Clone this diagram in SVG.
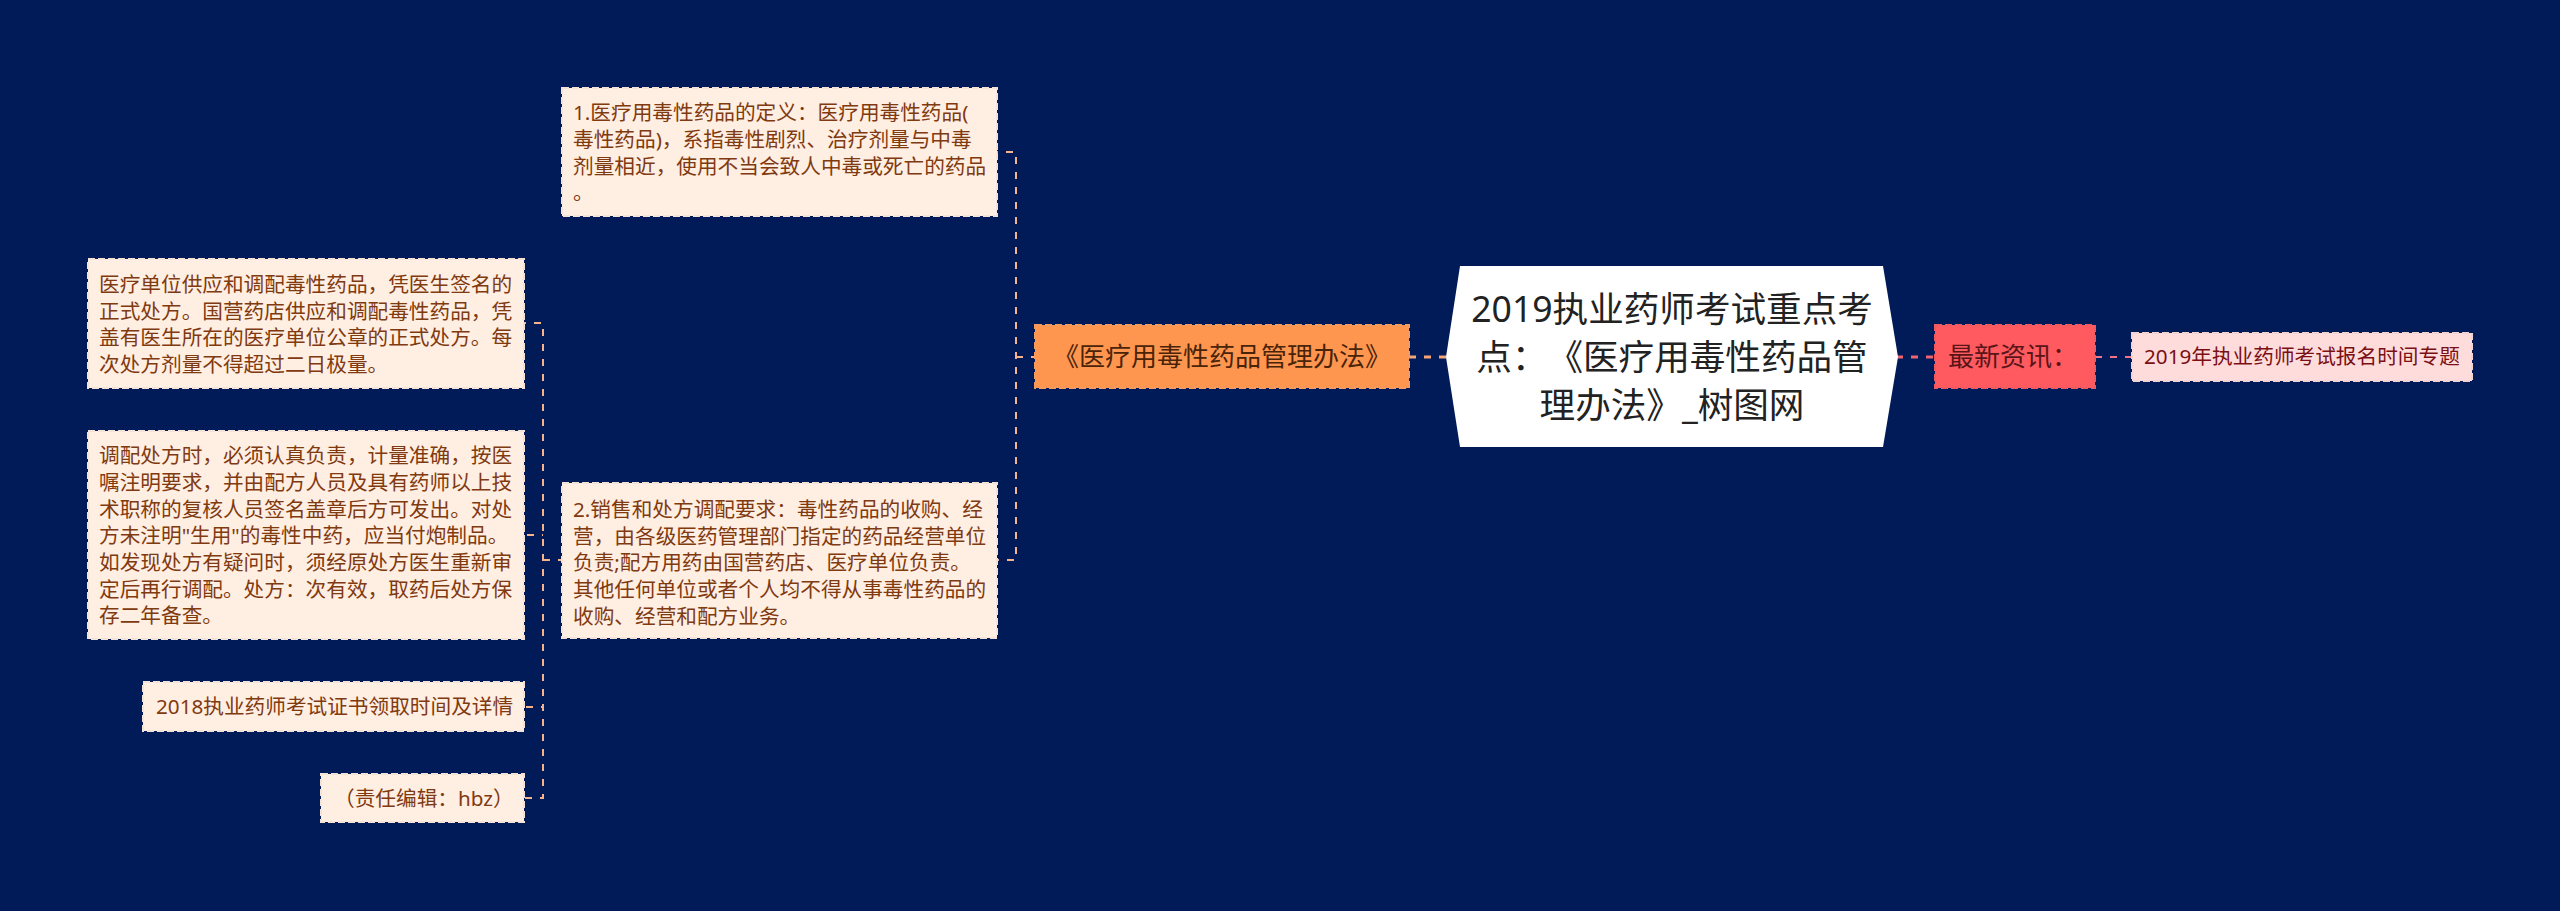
<svg xmlns="http://www.w3.org/2000/svg" width="2560" height="911" viewBox="0 0 2560 911">
<style>
text{font-family:"Noto Sans","Noto Sans CJK SC","Liberation Sans",sans-serif;text-spacing-trim:space-all}
.q{font-family:"Noto Sans CJK TC",sans-serif}
.t{font-size:20.67px;fill:#7f3a10}
.b{fill:#ffeee2;stroke:#f3e2d8;stroke-width:2;stroke-dasharray:7 3}
.c{fill:none;stroke:#f5b48c;stroke-width:2;stroke-dasharray:7 8}
</style>
<rect width="2560" height="911" fill="#001b58"/>
<g id="connectors">
<path class="c" stroke-dashoffset="6" d="M997 152H1016V560H997"/>
<path class="c" stroke-dasharray="5 7 8" d="M1016 357H1035"/>
<path class="c" stroke-dasharray="27 6" d="M1446 357H1409" style="stroke-width:3;stroke:#f5a676"/>
<path class="c" stroke-dashoffset="5" d="M524 323H543V798H524"/>
<path class="c" stroke-dashoffset="12" d="M524 535H543"/>
<path class="c" stroke-dashoffset="13" d="M524 707H543"/>
<path class="c" stroke-dasharray="4 8 7" d="M543 560H562"/>
<path class="c" stroke-dasharray="27 6" d="M1896 357H1935" style="stroke-width:3;stroke:#ee6570"/>
<path class="c" stroke-dasharray="7 7" d="M2095 357H2132" style="stroke:#ee7585"/>
</g>
<g id="root"><polygon points="1446,357 1460,266 1883,266 1898,357 1883,447 1460,447" fill="#fff"/>
<g font-size="35.6" fill="#222" text-anchor="middle"><text x="1672" y="322">2019执业药师考试重点考</text><text x="1672" y="370">点：<tspan class="q">《</tspan>医疗用毒性药品管</text><text x="1672" y="418">理办法<tspan class="q">》</tspan>_树图网</text></g></g>
<g id="n-branch"><rect x="1035" y="325" width="374" height="63" fill="#ff9650" stroke="#f39a60" stroke-width="2" stroke-dasharray="7 3"/><text x="1222" y="366" font-size="26" fill="#4a2408" text-anchor="middle"><tspan class="q">《</tspan>医疗用毒性药品管理办法<tspan class="q">》</tspan></text></g>
<g id="n-def"><rect class="b" x="562" y="88" width="435" height="128"/><g class="t"><text x="573" y="120">1.医疗用毒性药品的定义：医疗用毒性药品(</text><text x="573" y="147">毒性药品)，系指毒性剧烈、治疗剂量与中毒</text><text x="573" y="174">剂量相近，使用不当会致人中毒或死亡的药品</text><text x="573" y="200">。</text></g></g>
<g id="n-sale"><rect class="b" x="562" y="483" width="435" height="155"/><g class="t"><text x="573" y="517">2.销售和处方调配要求：毒性药品的收购、经</text><text x="573" y="544">营，由各级医药管理部门指定的药品经营单位</text><text x="573" y="570">负责;配方用药由国营药店、医疗单位负责。</text><text x="573" y="597">其他任何单位或者个人均不得从事毒性药品的</text><text x="573" y="624">收购、经营和配方业务。</text></g></g>
<g id="n-a"><rect class="b" x="88" y="259" width="436" height="129"/><g class="t"><text x="99" y="292">医疗单位供应和调配毒性药品，凭医生签名的</text><text x="99" y="319">正式处方。国营药店供应和调配毒性药品，凭</text><text x="99" y="345">盖有医生所在的医疗单位公章的正式处方。每</text><text x="99" y="372">次处方剂量不得超过二日极量。</text></g></g>
<g id="n-b"><rect class="b" x="88" y="431" width="436" height="208"/><g class="t"><text x="99" y="463">调配处方时，必须认真负责，计量准确，按医</text><text x="99" y="490">嘱注明要求，并由配方人员及具有药师以上技</text><text x="99" y="517">术职称的复核人员签名盖章后方可发出。对处</text><text x="99" y="543">方未注明"生用"的毒性中药，应当付炮制品。</text><text x="99" y="570">如发现处方有疑问时，须经原处方医生重新审</text><text x="99" y="597">定后再行调配。处方：次有效，取药后处方保</text><text x="99" y="623">存二年备查。</text></g></g>
<g id="n-c"><rect class="b" x="143" y="682" width="381" height="49"/><text class="t" x="156" y="714">2018执业药师考试证书领取时间及详情</text></g>
<g id="n-d"><rect class="b" x="321" y="774" width="203" height="48"/><text class="t" x="334" y="806">（责任编辑：hbz）</text></g>
<g id="n-news"><rect x="1935" y="325" width="160" height="63" fill="#ff5a5f" stroke="#ee5a60" stroke-width="2" stroke-dasharray="7 3"/><text x="1948" y="366" font-size="26" fill="#5a1518">最新资讯：</text></g>
<g id="n-topic"><rect x="2132" y="333" width="340" height="48" fill="#ffdcdc" stroke="#f3d2d2" stroke-width="2" stroke-dasharray="7 3"/><text x="2144" y="364" font-size="20.67" fill="#7a0f14">2019年执业药师考试报名时间专题</text></g>
</svg>
